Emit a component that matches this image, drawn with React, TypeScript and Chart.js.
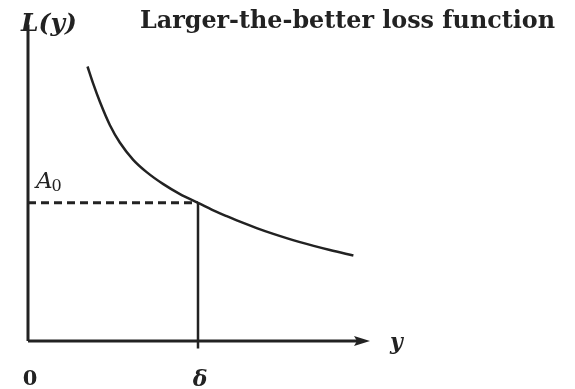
import React, { useEffect, useRef } from "react";
import { Chart, registerables } from "chart.js";

Chart.register(...registerables);

// Loss curve L(y), y measured in units of δ, L in units of A0
const curveY = [
  0.350, 0.384, 0.424, 0.482, 0.541, 0.619, 0.698, 0.796, 0.894, 1.0,
  1.110, 1.169, 1.266, 1.345, 1.443, 1.600, 1.776, 1.914,
];
const curveL = [
  1.986, 1.860, 1.727, 1.561, 1.434, 1.311, 1.222, 1.135, 1.063, 1.0,
  0.934, 0.903, 0.854, 0.817, 0.775, 0.715, 0.658, 0.619,
];

const delta = 1;
const A0 = 1;
const xAxisEnd = 2;
const yScaleTop = 2.25;
const yAxisTop = 2.29;

const titleText = "Larger-the-better loss function";
const yAxisLabel = "L(y)";
const xAxisLabel = "y";
const originLabel = "0";
const deltaLabel = "δ";

const INK = "#222222";
const SERIF = "'DejaVu Serif', 'Liberation Serif', serif";

const annotations = {
  id: "annotations",
  afterDatasetsDraw(chart: any) {
    const { ctx } = chart;
    const xs = chart.scales.x;
    const ys = chart.scales.y;
    const px = (v: number) => xs.getPixelForValue(v);
    const py = (v: number) => ys.getPixelForValue(v);

    ctx.save();
    ctx.fillStyle = INK;

    // arrow head at the end of the horizontal axis
    const tipX = px(xAxisEnd);
    const tipY = py(0);
    ctx.beginPath();
    ctx.moveTo(tipX + 2, tipY);
    ctx.lineTo(tipX - 14, tipY - 5);
    ctx.lineTo(tipX - 11, tipY);
    ctx.lineTo(tipX - 14, tipY + 5);
    ctx.closePath();
    ctx.fill();

    ctx.textBaseline = "middle";

    // title
    ctx.textAlign = "left";
    ctx.font = `bold 24px ${SERIF}`;
    const tw = ctx.measureText(titleText).width;
    ctx.fillText(titleText, 140, 22, Math.min(tw, 415));

    // vertical axis label
    ctx.font = `italic bold 25px ${SERIF}`;
    ctx.fillText(yAxisLabel, px(0) - 7, 24);

    // horizontal axis label
    ctx.font = `italic bold 22px ${SERIF}`;
    ctx.fillText(xAxisLabel, tipX + 22, tipY + 2);

    // A0 label
    const aX = px(0) + 8;
    const aY = py(A0) - 21;
    ctx.font = `italic 23px ${SERIF}`;
    ctx.fillText("A", aX, aY);
    const aW = ctx.measureText("A").width;
    ctx.font = `16px ${SERIF}`;
    ctx.fillText("0", aX + aW - 1, aY + 5);

    // origin and δ labels
    ctx.textAlign = "center";
    ctx.font = `bold 21px ${SERIF}`;
    ctx.fillText(originLabel, px(0) + 2, 380);
    ctx.font = `italic bold 22px ${SERIF}`;
    ctx.fillText(deltaLabel, px(delta) + 2, 380);

    ctx.restore();
  },
};

export default function App() {
  const canvasRef = useRef<HTMLCanvasElement | null>(null);

  useEffect(() => {
    const canvas = canvasRef.current;
    if (!canvas) return;

    const line = (data: { x: number; y: number }[], width: number, dash: number[] = []) => ({
      data,
      borderColor: INK,
      borderWidth: width,
      borderDash: dash,
      pointRadius: 0,
      tension: 0,
      clip: false as any,
      borderCapStyle: "butt" as const,
    });

    const chart = new Chart(canvas, {
      type: "line",
      data: {
        datasets: [
          {
            ...line(curveY.map((v, i) => ({ x: v, y: curveL[i] })), 2.5),
            cubicInterpolationMode: "monotone",
          },
          line([{ x: 0, y: 0 }, { x: 0, y: yAxisTop }], 3),
          line([{ x: 0, y: 0 }, { x: xAxisEnd - 0.04, y: 0 }], 3),
          line([{ x: 0, y: A0 }, { x: delta, y: A0 }], 3, [8, 5]),
          line([{ x: delta, y: A0 }, { x: delta, y: -0.055 }], 2.5),
        ] as any,
      },
      options: {
        animation: false,
        responsive: false,
        events: [],
        layout: { padding: { left: 28, right: 575 - 368, top: 30, bottom: 389 - 341 } },
        scales: {
          x: { type: "linear", min: 0, max: xAxisEnd, display: false },
          y: { type: "linear", min: 0, max: yScaleTop, display: false },
        },
        plugins: { legend: { display: false }, tooltip: { enabled: false }, title: { display: false } },
      },
      plugins: [annotations],
    });

    return () => chart.destroy();
  }, []);

  return (
    <div style={{ position: "absolute", left: 0, top: 0, width: 575, height: 389, background: "#fff" }}>
      <canvas ref={canvasRef} width={575} height={389} />
    </div>
  );
}
